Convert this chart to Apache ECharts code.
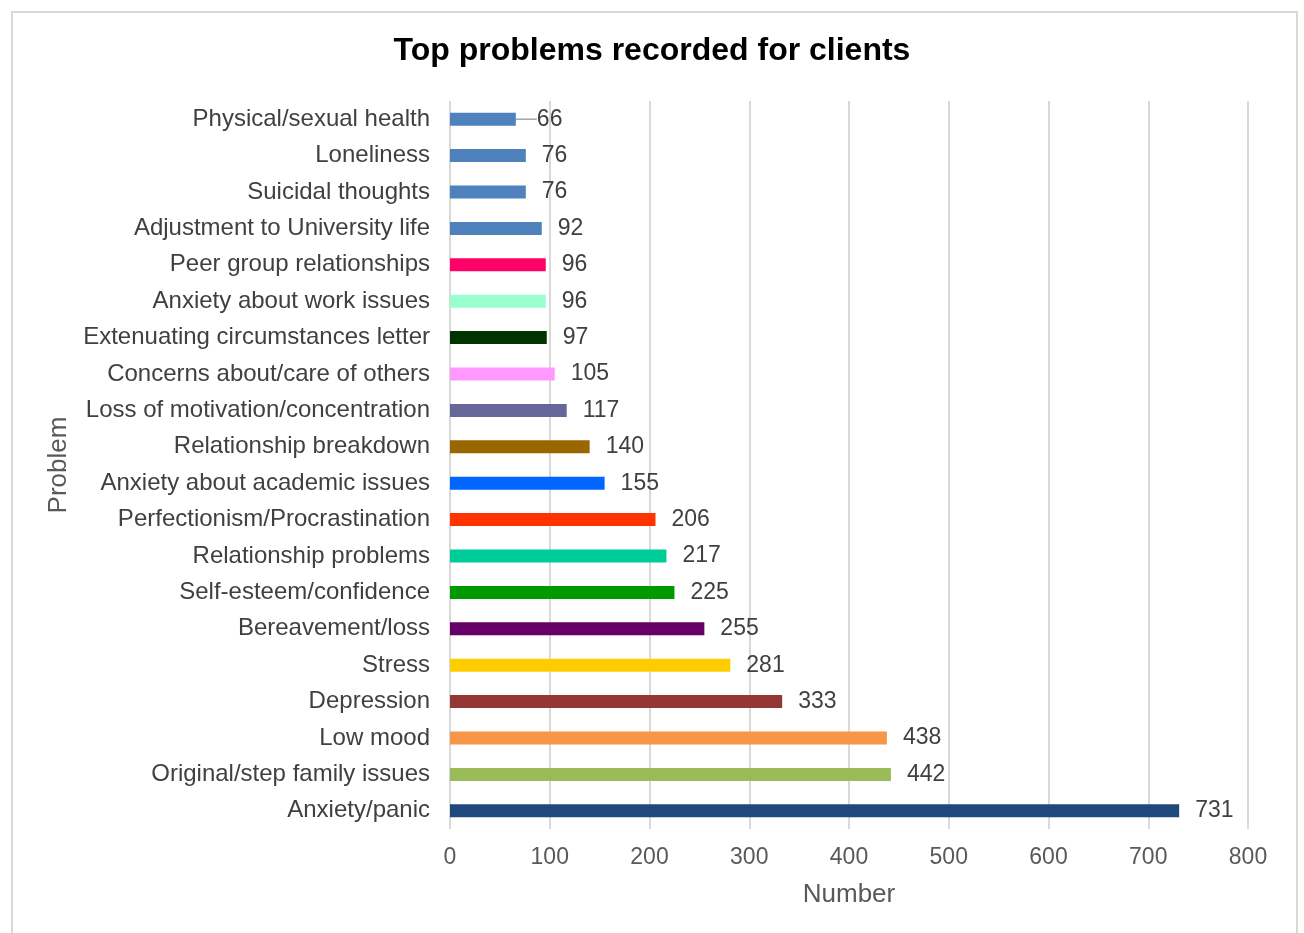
<!DOCTYPE html>
<html>
<head>
<meta charset="utf-8">
<script src="https://cdn.jsdelivr.net/npm/echarts@6/dist/echarts.min.js"></script>
<style>
html,body{margin:0;padding:0;background:#fff;}
#chart{width:1304px;height:933px;}
</style>
</head>
<body>
<div id="chart"></div>
<script>
const categories = [
  "Physical/sexual health","Loneliness","Suicidal thoughts","Adjustment to University life",
  "Peer group relationships","Anxiety about work issues","Extenuating circumstances letter",
  "Concerns about/care of others","Loss of motivation/concentration","Relationship breakdown",
  "Anxiety about academic issues","Perfectionism/Procrastination","Relationship problems",
  "Self-esteem/confidence","Bereavement/loss","Stress","Depression","Low mood",
  "Original/step family issues","Anxiety/panic"
];
const values = [66,76,76,92,96,96,97,105,117,140,155,206,217,225,255,281,333,438,442,731];
const barColors = [
  "#4F81BD","#4F81BD","#4F81BD","#4F81BD","#FF0066","#99FFCC","#003300","#FF99FF",
  "#666699","#996600","#0066FF","#FF3300","#00CC99","#009900","#660066","#FFCC00",
  "#953735","#F79646","#9BBB59","#1F497D"
];
const xTicks = [0,100,200,300,400,500,600,700,800];

const chart = echarts.init(document.getElementById('chart'));
const font = 'Liberation Sans, Arial, sans-serif';
chart.setOption({
  animation:false,
  title:{
    text:'Top problems recorded for clients',
    left:'center', top:30,
    textStyle:{fontFamily:font,fontSize:32,fontWeight:'bold',color:'#000'}
  },
  graphic:[{
    type:'rect', shape:{x:12,y:12,width:1285,height:940},
    style:{fill:'none',stroke:'#d9d9d9',lineWidth:2}, silent:true
  }],
  grid:{left:450,right:56,top:101,bottom:104},
  xAxis:{
    type:'value', min:xTicks[0], max:xTicks[xTicks.length-1], interval:100,
    name:'Number', nameLocation:'middle', nameGap:53,
    nameTextStyle:{fontFamily:font,fontSize:26,color:'#595959'},
    axisLine:{show:false}, axisTick:{show:false},
    axisLabel:{fontFamily:font,fontSize:23,color:'#595959',margin:17},
    splitLine:{lineStyle:{color:'#d9d9d9',width:2}}
  },
  yAxis:{
    type:'category', data:categories, inverse:true,
    name:'Problem', nameLocation:'middle', nameGap:376, nameRotate:90,
    nameTextStyle:{fontFamily:font,fontSize:26,color:'#595959'},
    axisLine:{show:false}, axisTick:{show:false},
    axisLabel:{fontFamily:font,fontSize:24,color:'#404040',margin:20}
  },
  series:[{
    type:'bar',
    data:values.map((v,i)=>{
      const d = {value:v,itemStyle:{color:barColors[i]}};
      if(i===0){ d.labelLine = {show:true,lineStyle:{color:'#a6a6a6',width:1.5}}; }
      return d;
    }),
    barWidth:13,
    label:{show:true,position:'right',distance:16,fontFamily:font,fontSize:23,color:'#404040'},
    labelLayout:function(p){ return p.dataIndex===0 ? {dx:5} : {}; }
  }]
});
</script>
</body>
</html>
